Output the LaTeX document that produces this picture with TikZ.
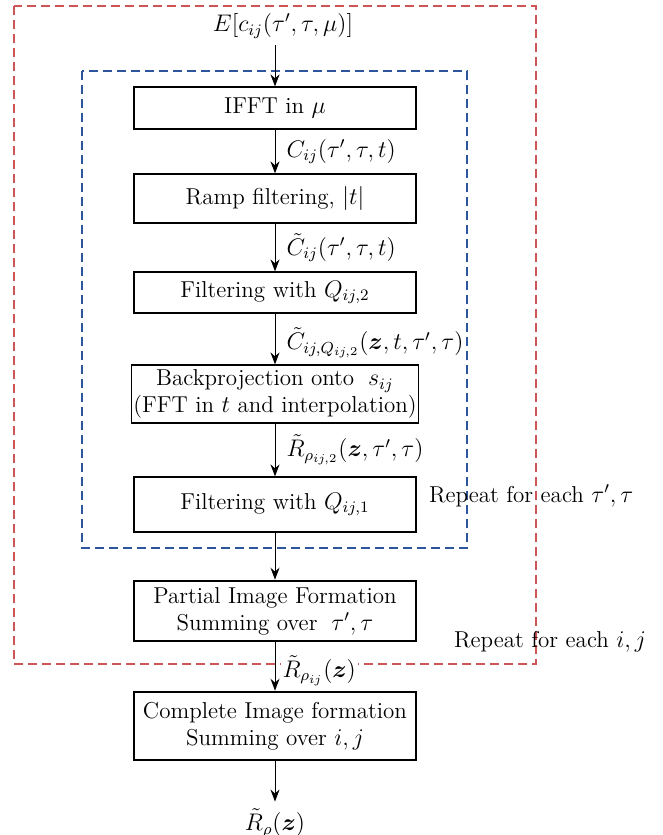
\documentclass[tikz,border=0pt]{standalone}
\usepackage{amsmath, amssymb, bm}
\usetikzlibrary{arrows.meta}
\definecolor{looped}{RGB}{205,85,85}
\definecolor{loopblue}{RGB}{45,85,155}

\begin{document}
\begin{tikzpicture}[x=0.5pt, y=-0.5pt,
    every node/.style={font=\fontsize{11.5}{13.5}\selectfont},
    stage/.style={draw, line width=0.6pt, minimum width=141pt, inner sep=1pt, align=center},
    bigstage/.style={stage, line width=1.3pt},
    flow/.style={-{Stealth[length=6pt, width=4.5pt]}, line width=0.5pt},
    lbl/.style={right, inner sep=3pt, xshift=2.5pt},
    loopbox/.style={dash pattern=on 4.5pt off 2.5pt, line width=0.7pt}]
    \useasboundingbox (0,0) rectangle (663,835);

    % Loops: outer over i,j and inner over tau', tau
    \draw[loopbox, looped] (14,6) rectangle (536,664);
    \draw[loopbox, loopblue] (82,71) rectangle (467,548);

    % Processing chain
    \node (in) at (283,26) {$E[c_{ij}(\tau',\tau,\mu)]$};
    \node[stage, minimum height=21pt] (ifft) at (275,108) {IFFT in $\mu$};
    \node[stage, minimum height=24.5pt] (ramp) at (275,198.5) {Ramp filtering, $|t|$};
    \node[stage, minimum height=20.5pt] (q2) at (275,292.5) {Filtering with $Q_{ij,2}$};
    \node[stage, minimum height=29pt] (bp) at (275,394) {Backprojection onto \;$s_{ij}$\\(FFT in $t$ and interpolation)};
    \node[stage, minimum height=27.5pt] (q1) at (275,504.5) {Filtering with $Q_{ij,1}$};
    \node[bigstage, minimum height=30pt] (part) at (275,611) {Partial Image Formation\\Summing over \;$\tau',\tau$};
    \node[bigstage, minimum height=34pt] (full) at (275,726) {Complete Image formation\\Summing over $i,j$};
    \node (out) at (275,823) {$\tilde{R}_{\rho}(\bm{z})$};

    % Loop notes
    \node[anchor=west] (rep1) at (422,496) {Repeat for each $\tau',\tau$};
    \node[anchor=west] (rep2) at (447,642) {Repeat for each $i,j$};

    \draw[flow] (in.south -| ifft.north) -- (ifft.north);
    \draw[flow] (ifft) -- node[lbl] {$C_{ij}(\tau',\tau,t)$} (ramp);
    \draw[flow] (ramp) -- node[lbl] {$\tilde{C}_{ij}(\tau',\tau,t)$} (q2);
    \draw[flow] (q2) -- node[lbl, yshift=-2pt] {$\tilde{C}_{ij,Q_{ij,2}}(\bm{z},t,\tau',\tau)$} (bp);
    \draw[flow] (bp) -- node[lbl] {$\tilde{R}_{\rho_{ij,2}}(\bm{z},\tau',\tau)$} (q1);
    \draw[flow] (q1) -- (part);
    \draw[flow] (part) -- node[lbl, fill=white, inner sep=1pt, yshift=-2pt] {$\tilde{R}_{\rho_{ij}}(\bm{z})$} (full);
    \draw[flow] (full) -- (out);
\end{tikzpicture}
\end{document}
